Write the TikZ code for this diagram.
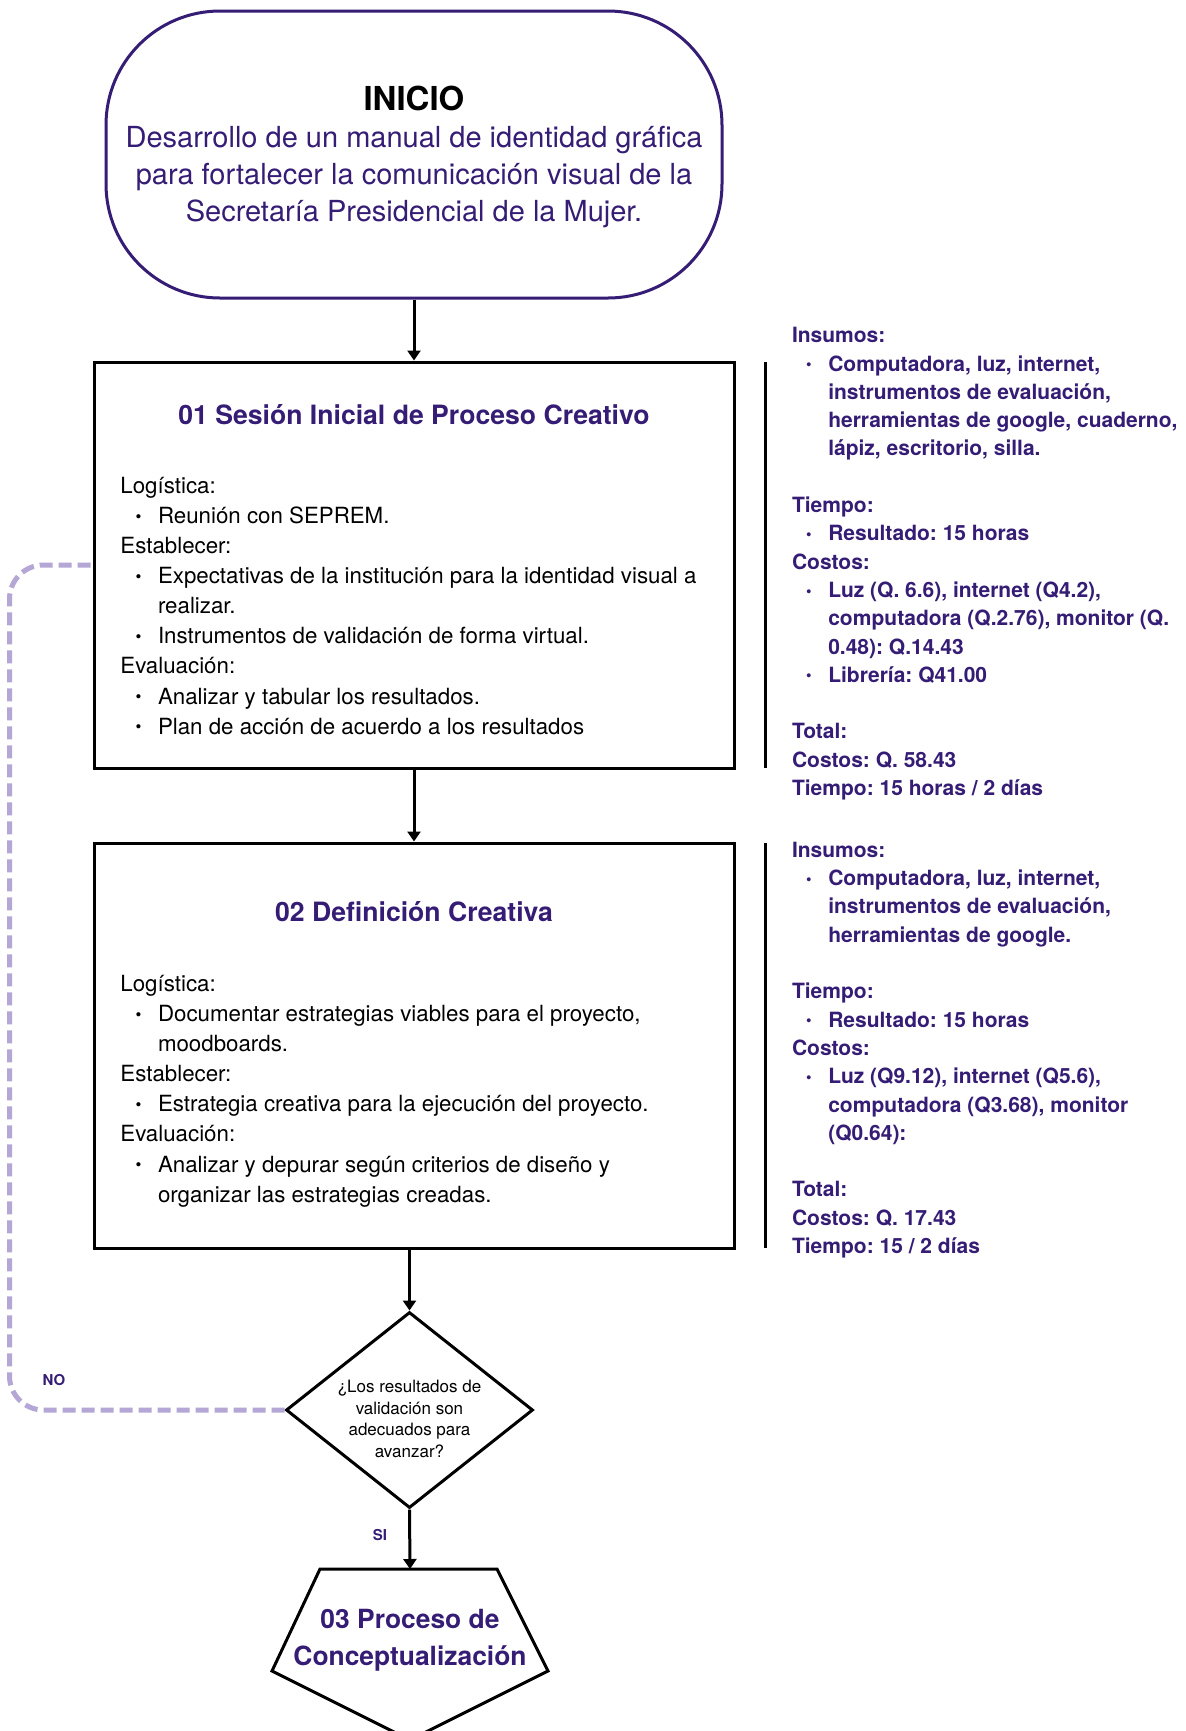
\documentclass[tikz,border=0pt]{standalone}
\usepackage{fontspec}
\setmainfont{TeX Gyre Heros}
\usetikzlibrary{arrows.meta,shapes.geometric}
\definecolor{ink}{HTML}{351C75}
\definecolor{lav}{HTML}{B4A7D6}
\frenchspacing
\newcommand\smbul{\raisebox{0.12ex}{\scalebox{0.75}{\textbullet}}}
\newcommand\bodyfont{\fontsize{11.15pt}{15.05pt}\selectfont}
\newcommand\rfont{\fontsize{10.5pt}{14.15pt}\selectfont\bfseries}
\newcommand\bbul[1]{\makebox[18.8pt][l]{\hspace{7.6pt}\smbul}#1}
\newcommand\bind{\hspace*{18.8pt}}
\newcommand\rbul[1]{\makebox[18.15pt][l]{\hspace{7pt}\smbul}#1}
\newcommand\rind{\hspace*{18.15pt}}
\begin{document}
\begin{tikzpicture}[x=0.5pt,y=-0.5pt,
  conn/.style={line width=1.5pt,-{Triangle[length=5pt,width=6.5pt]}},
  boxstyle/.style={draw,line width=1.5pt,minimum width=320pt,inner sep=0},
  txt/.style={inner sep=0,outer sep=0},
  loopline/.style={draw=lav,line width=2.5pt,dash pattern=on 6.5pt off 3pt,rounded corners=17pt},
  bar/.style={line width=1.5pt}]
\useasboundingbox (0,0) rectangle (1185,1731);
\fill[white] (0,0) rectangle (1185,1731);

% start terminal
\node[draw=ink,line width=1.5pt,rounded corners=57pt,minimum width=308pt,minimum height=143.5pt,inner sep=0] (start) at (414,154.5) {};
\node[txt,anchor=base] (startt) at (414,110) {\parbox[t]{320pt}{\centering
  {\fontsize{16.5pt}{18.5pt}\selectfont\bfseries INICIO}\\
  \fontsize{14.5pt}{18.5pt}\selectfont\color{ink}Desarrollo de un manual de identidad gráfica\\
  para fortalecer la comunicación visual de la\\
  Secretaría Presidencial de la Mujer.}};

% box 1
\node[boxstyle,minimum height=203pt] (b1) at (414,565) {};
\node[txt,anchor=base,text=ink] (t1) at (414,424) {\fontsize{13.3pt}{16pt}\selectfont\bfseries 01 Sesión Inicial de Proceso Creativo};
\node[txt,anchor=base west] (l1) at (120.4,493.3) {\parbox[t]{310pt}{\bodyfont
  Logística:\\
  \bbul{Reunión con SEPREM.}\\
  Establecer:\\
  \bbul{Expectativas de la institución para la identidad visual a}\\
  \bind realizar.\\
  \bbul{Instrumentos de validación de forma virtual.}\\
  Evaluación:\\
  \bbul{Analizar y tabular los resultados.}\\
  \bbul{Plan de acción de acuerdo a los resultados}}};

% box 2
\node[boxstyle,minimum height=202.5pt] (b2) at (414,1045.5) {};
\node[txt,anchor=base,text=ink] (t2) at (414,921) {\fontsize{13.3pt}{16pt}\selectfont\bfseries 02 Definición Creativa};
\node[txt,anchor=base west] (l2) at (120.4,991.4) {\parbox[t]{310pt}{\bodyfont
  Logística:\\
  \bbul{Documentar estrategias viables para el proyecto,}\\
  \bind moodboards.\\
  Establecer:\\
  \bbul{Estrategia creativa para la ejecución del proyecto.}\\
  Evaluación:\\
  \bbul{Analizar y depurar según criterios de diseño y}\\
  \bind organizar las estrategias creadas.}};

% right info blocks
\draw[bar] (765,362) -- (765,768);
\draw[bar] (765,843) -- (765,1248);
\node[txt,anchor=base west,text=ink] (r1) at (792,342.7) {\parbox[t]{260pt}{\rfont
  Insumos:\\
  \rbul{Computadora, luz, internet,}\\
  \rind instrumentos de evaluación,\\
  \rind herramientas de google, cuaderno,\\
  \rind lápiz, escritorio, silla.\\
  \strut\\
  Tiempo:\\
  \rbul{Resultado: 15 horas}\\
  Costos:\\
  \rbul{Luz (Q. 6.6), internet (Q4.2),}\\
  \rind computadora (Q.2.76), monitor (Q.\\
  \rind 0.48): Q.14.43\\
  \rbul{Librería: Q41.00}\\
  \strut\\
  Total:\\
  Costos: Q. 58.43\\
  Tiempo: 15 horas / 2 días}};
\node[txt,anchor=base west,text=ink] (r2) at (792,857.3) {\parbox[t]{260pt}{\rfont
  Insumos:\\
  \rbul{Computadora, luz, internet,}\\
  \rind instrumentos de evaluación,\\
  \rind herramientas de google.\\
  \strut\\
  Tiempo:\\
  \rbul{Resultado: 15 horas}\\
  Costos:\\
  \rbul{Luz (Q9.12), internet (Q5.6),}\\
  \rind computadora (Q3.68), monitor\\
  \rind (Q0.64):\\
  \strut\\
  Total:\\
  Costos: Q. 17.43\\
  Tiempo: 15 / 2 días}};

% decision
\node[diamond,draw,line width=1.5pt,minimum width=123.5pt,minimum height=98pt,inner sep=0] (dec) at (409.5,1410) {};
\node[txt,anchor=base] (dect) at (409.5,1392.6) {\parbox[t]{100pt}{\centering\fontsize{8.5pt}{10.8pt}\selectfont
  ¿Los resultados de\\ validación son\\ adecuados para\\ avanzar?}};

% pentagon
\draw[line width=1.5pt] (320,1569) -- (497,1569) -- (548,1671) -- (410,1740) -- (272,1671) -- cycle;
\coordinate (p3top) at (410,1569);
\node[txt,anchor=base,text=ink] (p3) at (410,1628.5) {\parbox[t]{200pt}{\centering\fontsize{13.2pt}{18.25pt}\selectfont\bfseries
  03 Proceso de\\ Conceptualización}};

% connectors
\draw[conn] (start.south -| b1.north) -- (b1.north);
\draw[conn] (b1.south) -- (b2.north);
\draw[conn] (b2.south -| dec.north) -- (dec.north);
\draw[conn] (dec.south) -- (p3top);
\draw[loopline] (dec.west) -- ++(-275,0) |- (b1.west);

\node[txt,font=\fontsize{7.5pt}{9pt}\selectfont\bfseries,text=ink] (no) at (54,1380.5) {NO};
\node[txt,font=\fontsize{7.5pt}{9pt}\selectfont\bfseries,text=ink] (si) at (380,1535) {SI};
\end{tikzpicture}
\end{document}
